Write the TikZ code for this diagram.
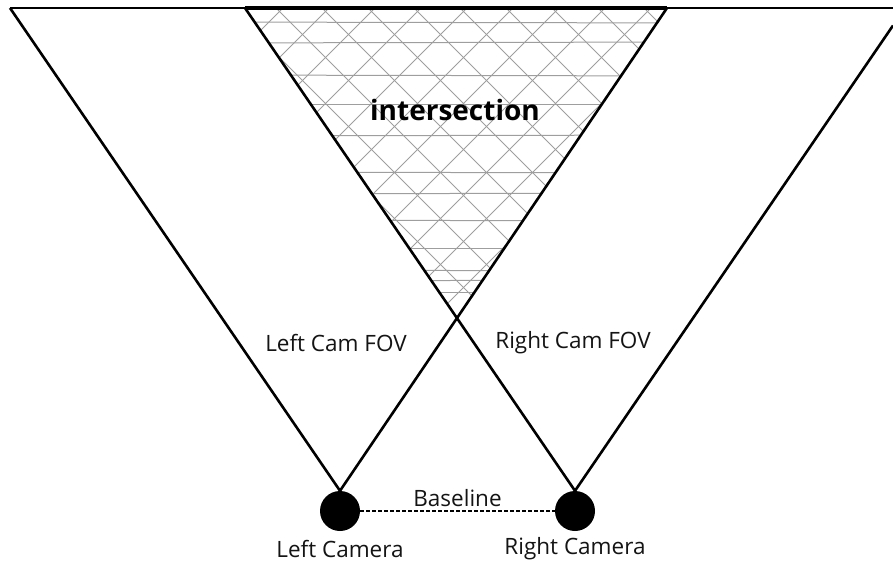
\documentclass[tikz,border=0pt]{standalone}
\usepackage{fontspec}
\setmainfont{Open Sans}
\usetikzlibrary{calc}
\begin{document}
\begin{tikzpicture}[x=1pt,y=-1pt,
  fovline/.style={line width=2.6pt,black},
  hatchline/.style={line width=1pt,black!38},
  camera/.style={circle,fill=black,minimum size=40pt,inner sep=0pt},
  lbl/.style={font=\fontsize{22.5}{26}\selectfont,text=black!92}]
\useasboundingbox (0,0) rectangle (893,569);

% cameras
\node[camera] (lcam) at (340,511) {};
\node[camera] (rcam) at (575,511) {};

% far ends of the field-of-view rays
\coordinate (ltl) at (10,8);
\coordinate (ltr) at (667,8);
\coordinate (rtl) at (245,8);
\coordinate (rtr) at (893,25.5);
\coordinate (redge) at (893,8);
\coordinate (cross) at (457.5,318);

% hatched overlap of both views
\begin{scope}
  \clip (rtl) -- (ltr) -- (cross) -- cycle;
  \foreach \c in {130,176,...,690} \draw[hatchline] (\c-20,-20) -- (\c+400,400);
  \foreach \c in {245,291,...,810} \draw[hatchline] (\c+20,-20) -- (\c-400,400);
  \foreach \y/\d in {22/1,43/-1,75/1,105/0,136/-1,172/1,194/-1,220/1,248/0,270/1,281/-1,292/0}
    \draw[hatchline] (200,\y) -- (700,\y+\d);
\end{scope}

% top edge
\draw[line width=2pt] (ltl) -- (redge);
\draw[line width=3.5pt] (rtl) -- (ltr);

% field-of-view rays
\draw[fovline] (lcam.north) -- (ltl);
\draw[fovline] (lcam.north) -- (ltr);
\draw[fovline] (rcam.north) -- (rtl);
\draw[fovline] (rcam.north) -- (rtr);

% baseline
\draw[line width=1.6pt,dash pattern=on 4pt off 2pt] (lcam.east) -- (rcam.west)
  node[midway,above=0pt,lbl] (base) {Baseline};

% labels
\node[font=\bfseries\fontsize{28}{33}\selectfont] (inter) at (455,110) {intersection};
\node[lbl] (lfov) at (336,343) {Left Cam FOV};
\node[lbl] (rfov) at (573,343) {Right Cam FOV};
\node[lbl] (lname) at (340,549) {Left Camera};
\node[lbl] (rname) at (575,549) {Right Camera};
\end{tikzpicture}
\end{document}
